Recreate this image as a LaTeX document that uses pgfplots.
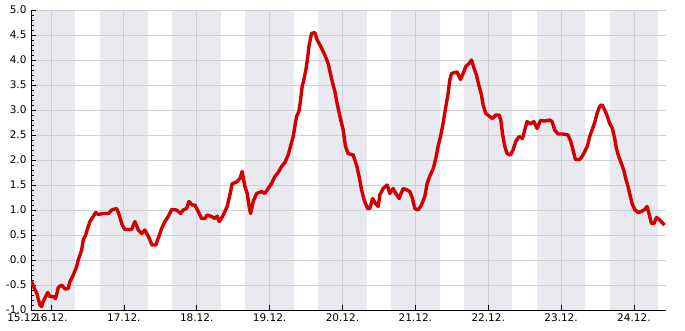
\documentclass[border=0pt]{standalone}
\usepackage{fontspec}
\setmainfont{DejaVu Sans}
\usepackage{pgfplots}
\pgfplotsset{compat=1.18}
\definecolor{band}{RGB}{211,211,226}
\definecolor{gridc}{RGB}{208,208,212}
\definecolor{tred}{RGB}{210,0,0}
\begin{document}
\begin{tikzpicture}
\begin{axis}[
  set layers,
  name=ax,
  width=635pt, height=300pt, scale only axis,
  xmin=0.726, xmax=9.44, ymin=-1, ymax=5,
  axis x line=bottom, axis y line=left,
  axis line style={-, black, line width=0.8pt},
  xtick={1,2,3,4,5,6,7,8,9},
  xticklabels={16.12.,17.12.,18.12.,19.12.,20.12.,21.12.,22.12.,23.12.,24.12.},
  extra x ticks={0.726},
  extra x tick labels={15.12.},
  extra x tick style={major tick length=0pt, grid=none, xticklabel style={xshift=-7pt}},
  ytick={-1,-0.5,0,0.5,1,1.5,2,2.5,3,3.5,4,4.5,5},
  /pgf/number format/fixed,
  /pgf/number format/fixed zerofill,
  /pgf/number format/precision=1,
  /pgf/number format/assume math mode=true,
  minor y tick num=4,
  tick align=inside,
  major tick length=5pt, minor tick length=3pt,
  tick style={black, line width=0.6pt},
  xmajorgrids, ymajorgrids,
  major grid style={gridc, line width=0.8pt},
  font=\fontsize{10.5}{12}\selectfont,
  xticklabel style={yshift=0pt},
  yticklabel style={xshift=-1pt},
  clip=true,
]
% zero reference line (under the night bands)
\addplot[black, line width=1pt, on layer=axis background] coordinates {(0.726,0) (9.44,0)};
% night bands 16:00-08:00
\addplot[fill=band, fill opacity=0.5, draw=none, on layer=axis background]
    coordinates {(0.726,-1) (0.726,5) (1.3333,5) (1.3333,-1)} --cycle;
\pgfplotsinvokeforeach{2,...,9}{
  \addplot[fill=band, fill opacity=0.5, draw=none, on layer=axis background]
    coordinates {(#1-0.3333,-1) (#1-0.3333,5) (#1+0.3333,5) (#1+0.3333,-1)} --cycle;
}
\addplot[tred, line width=3.4pt, line join=round] table {
x y
0.730 -0.42
0.781 -0.60
0.804 -0.66
0.849 -0.90
0.872 -0.93
0.894 -0.83
0.927 -0.73
0.955 -0.65
0.986 -0.73
1.032 -0.73
1.064 -0.77
1.100 -0.55
1.147 -0.50
1.192 -0.58
1.237 -0.57
1.261 -0.43
1.306 -0.30
1.353 -0.13
1.374 0.00
1.398 0.10
1.421 0.20
1.443 0.40
1.476 0.50
1.503 0.63
1.535 0.77
1.580 0.87
1.613 0.95
1.649 0.91
1.717 0.93
1.786 0.93
1.833 1.00
1.901 1.03
1.937 0.90
1.978 0.70
2.015 0.61
2.107 0.61
2.152 0.77
2.198 0.60
2.244 0.53
2.289 0.60
2.344 0.45
2.372 0.35
2.385 0.30
2.440 0.30
2.461 0.40
2.481 0.47
2.518 0.63
2.564 0.77
2.609 0.87
2.656 1.01
2.724 1.00
2.779 0.93
2.815 1.00
2.861 1.03
2.893 1.17
2.938 1.10
2.975 1.10
3.021 0.97
3.067 0.83
3.112 0.83
3.144 0.90
3.204 0.87
3.250 0.83
3.281 0.88
3.309 0.77
3.355 0.87
3.387 0.97
3.418 1.07
3.455 1.30
3.487 1.53
3.538 1.55
3.593 1.63
3.624 1.77
3.661 1.47
3.693 1.33
3.720 1.07
3.739 0.93
3.775 1.17
3.822 1.33
3.890 1.37
3.935 1.33
3.981 1.43
4.027 1.53
4.073 1.67
4.118 1.75
4.165 1.87
4.210 1.95
4.255 2.10
4.292 2.30
4.324 2.47
4.347 2.67
4.370 2.87
4.402 2.97
4.425 3.20
4.447 3.47
4.470 3.60
4.498 3.80
4.521 4.03
4.543 4.30
4.576 4.53
4.621 4.55
4.653 4.40
4.699 4.28
4.758 4.10
4.804 3.93
4.850 3.63
4.896 3.37
4.927 3.13
4.964 2.88
5.010 2.60
5.042 2.27
5.078 2.13
5.147 2.10
5.193 1.90
5.229 1.67
5.262 1.40
5.298 1.20
5.344 1.03
5.376 1.03
5.413 1.23
5.454 1.13
5.490 1.07
5.513 1.30
5.558 1.43
5.613 1.50
5.650 1.33
5.695 1.43
5.732 1.33
5.778 1.23
5.833 1.43
5.887 1.40
5.924 1.37
5.961 1.23
5.993 1.03
6.038 1.00
6.085 1.10
6.130 1.27
6.162 1.53
6.199 1.68
6.244 1.82
6.281 2.03
6.313 2.28
6.346 2.47
6.381 2.73
6.414 3.03
6.450 3.33
6.473 3.60
6.496 3.73
6.542 3.75
6.573 3.76
6.620 3.61
6.656 3.73
6.693 3.87
6.738 3.93
6.771 4.00
6.807 3.83
6.839 3.70
6.871 3.50
6.908 3.30
6.930 3.10
6.967 2.93
7.012 2.88
7.059 2.83
7.104 2.90
7.149 2.90
7.173 2.80
7.196 2.53
7.228 2.27
7.259 2.13
7.306 2.10
7.341 2.20
7.378 2.37
7.424 2.47
7.470 2.43
7.502 2.60
7.533 2.77
7.580 2.72
7.625 2.77
7.671 2.63
7.717 2.79
7.776 2.78
7.845 2.80
7.876 2.77
7.913 2.60
7.959 2.52
8.027 2.52
8.096 2.50
8.133 2.37
8.164 2.20
8.197 2.01
8.256 2.01
8.288 2.07
8.325 2.17
8.362 2.28
8.393 2.47
8.425 2.60
8.462 2.75
8.494 2.93
8.531 3.08
8.562 3.10
8.599 3.00
8.636 2.87
8.668 2.73
8.705 2.63
8.736 2.43
8.760 2.23
8.791 2.07
8.828 1.93
8.860 1.80
8.887 1.63
8.919 1.47
8.946 1.30
8.974 1.13
9.011 1.01
9.056 0.95
9.103 0.97
9.148 1.01
9.180 1.07
9.212 0.90
9.240 0.73
9.276 0.73
9.309 0.85
9.354 0.80
9.399 0.73
9.420 0.70
};
\end{axis}
\pgfresetboundingbox
\path ([xshift=-31pt,yshift=-20pt]ax.south west) rectangle ([xshift=19pt,yshift=10pt]ax.north east);
\end{tikzpicture}
\end{document}
